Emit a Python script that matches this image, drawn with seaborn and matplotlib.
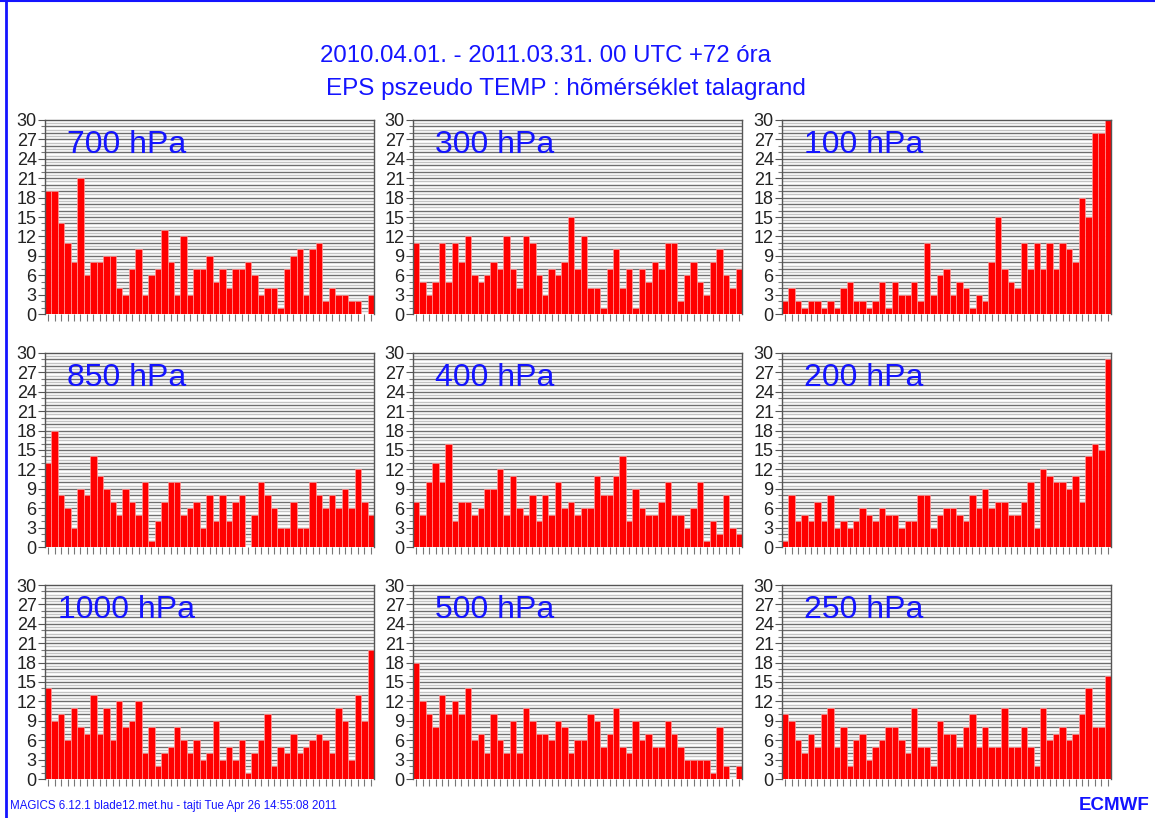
import numpy as np
import pandas as pd
import seaborn as sns
import matplotlib.pyplot as plt
from matplotlib.lines import Line2D

### talagrand counts per rank (51 ranks)
t700 = [19, 19, 14, 11, 8, 21, 6, 8, 8, 9, 9, 4, 3, 7, 10, 3, 6, 7, 13, 8, 3, 12, 3, 7, 7, 9,
        5, 7, 4, 7, 7, 8, 6, 3, 4, 4, 1, 7, 9, 10, 3, 10, 11, 2, 4, 3, 3, 2, 2, 0, 3]
t300 = [11, 5, 3, 5, 11, 5, 11, 8, 12, 6, 5, 6, 8, 7, 12, 7, 4, 12, 11, 6, 3, 7, 6, 8, 15, 7,
        12, 4, 4, 1, 7, 10, 4, 7, 1, 7, 5, 8, 7, 11, 11, 2, 6, 8, 5, 3, 8, 10, 6, 4, 7]
t100 = [2, 4, 2, 1, 2, 2, 1, 2, 1, 4, 5, 2, 2, 1, 2, 5, 1, 5, 3, 3, 5, 2, 11, 3, 6, 7,
        3, 5, 4, 1, 3, 2, 8, 15, 7, 5, 4, 11, 7, 11, 7, 11, 7, 11, 10, 8, 18, 15, 28, 28, 30]
t850 = [13, 18, 8, 6, 3, 9, 8, 14, 11, 9, 7, 5, 9, 7, 5, 10, 1, 4, 7, 10, 10, 5, 6, 7, 3, 8,
        4, 8, 4, 7, 8, 0, 5, 10, 8, 6, 3, 3, 7, 3, 3, 10, 8, 6, 8, 6, 9, 6, 12, 7, 5]
t400 = [7, 5, 10, 13, 10, 16, 4, 7, 7, 5, 6, 9, 9, 12, 5, 11, 6, 5, 8, 4, 8, 5, 10, 6, 7, 5,
        6, 6, 11, 8, 8, 11, 14, 4, 9, 6, 5, 5, 7, 10, 5, 5, 3, 6, 10, 1, 4, 2, 8, 3, 2]
t200 = [1, 8, 4, 5, 4, 7, 4, 8, 3, 4, 3, 4, 6, 5, 4, 6, 5, 5, 3, 4, 4, 8, 8, 3, 5, 6,
        6, 5, 4, 8, 6, 9, 6, 7, 7, 5, 5, 7, 10, 3, 12, 11, 10, 10, 9, 11, 7, 14, 16, 15, 29]
t1000 = [14, 9, 10, 6, 11, 8, 7, 13, 7, 11, 6, 12, 8, 9, 12, 4, 8, 2, 4, 5, 8, 6, 4, 6, 3, 4,
         9, 3, 5, 3, 6, 1, 4, 6, 10, 2, 5, 4, 7, 4, 5, 6, 7, 6, 4, 11, 9, 3, 13, 9, 20]
t500 = [18, 12, 10, 8, 13, 10, 12, 10, 14, 6, 7, 4, 10, 6, 4, 9, 4, 11, 9, 7, 7, 6, 9, 8, 4, 6,
        6, 10, 9, 5, 7, 11, 5, 4, 9, 6, 7, 5, 5, 9, 7, 5, 3, 3, 3, 3, 1, 8, 2, 0, 2]
t250 = [10, 9, 6, 4, 7, 5, 10, 11, 5, 8, 2, 6, 7, 3, 5, 6, 8, 8, 6, 4, 11, 5, 5, 2, 9, 7,
        7, 5, 8, 10, 5, 8, 5, 5, 11, 5, 5, 8, 5, 2, 11, 6, 7, 8, 6, 7, 10, 14, 8, 8, 16]

levels = [["700 hPa", "300 hPa", "100 hPa"],
          ["850 hPa", "400 hPa", "200 hPa"],
          ["1000 hPa", "500 hPa", "250 hPa"]]
counts = {"700 hPa": t700, "300 hPa": t300, "100 hPa": t100,
          "850 hPa": t850, "400 hPa": t400, "200 hPa": t200,
          "1000 hPa": t1000, "500 hPa": t500, "250 hPa": t250}
yticks = list(range(0, 31, 3))

title1 = "2010.04.01. - 2011.03.31. 00 UTC +72 óra"
title2 = "EPS pszeudo TEMP : hõmérséklet talagrand"
footer = "MAGICS 6.12.1 blade12.met.hu - tajti Tue Apr 26 14:55:08 2011"

sns.set_theme(style="white")
plt.rcParams['font.family'] = ['Liberation Sans', 'DejaVu Sans']

W, H = 1155, 818
fig = plt.figure(figsize=(W / 100, H / 100), dpi=100)

blue = "#1414ff"
lefts = [45, 413, 782]
tops = [120, 353, 585]
aw, ah = 329, 194

for r in range(3):
    for c in range(3):
        name = levels[r][c]
        vals = counts[name]
        df = pd.DataFrame({"rank": list(range(len(vals))), "count": vals})
        ax = fig.add_axes([lefts[c] / W, 1 - (tops[r] + ah) / H, aw / W, ah / H])
        # grid lines: dark at integers, light at half steps
        for v in np.arange(0.5, 30, 0.5):
            col = "#6e6e6e" if v % 1 == 0 else "#c4c4c4"
            ax.axhline(v, color=col, lw=1.0, zorder=0)
        sns.barplot(data=df, x="rank", y="count", color="#ff0000", saturation=1,
                    width=1, edgecolor="#ff9a9a", linewidth=0.5, ax=ax, zorder=2)
        ax.set_xlim(-0.5, len(vals) - 0.5)
        ax.set_ylim(0, 30)
        ax.set_yticks(yticks)
        ax.set_yticklabels([str(t) for t in yticks], fontsize=13, color="#222222")
        ax.set_yticks(range(0, 31), minor=True)
        ax.set_xticks(range(len(vals)))
        ax.set_xticklabels([])
        ax.tick_params(axis="x", length=5, width=0.8, color="#777777", direction="out", bottom=True)
        ax.tick_params(axis="y", which="major", length=5, width=0.8, color="#555555", pad=1, left=True)
        ax.tick_params(axis="y", which="minor", length=3, width=0.8, color="#777777", left=True)
        ax.set_xlabel("")
        ax.set_ylabel("")
        for s in ax.spines.values():
            s.set_color("#555555")
            s.set_linewidth(1.0)
        ax.spines["bottom"].set_visible(False)
        ax.text(0.247, 0.83, name, transform=ax.transAxes, ha="center", va="baseline",
                fontsize=23, color=blue, zorder=5)

fig.text(546 / W, 1 - 56 / H, title1, ha="center", va="center", fontsize=17.3, color=blue)
fig.text(566 / W, 1 - 89 / H, title2, ha="center", va="center", fontsize=17.5, color=blue)
fig.text(10 / W, 1 - 806 / H, footer, ha="left", va="center", fontsize=8.3, color=blue)
fig.text(1150 / W, 1 - 805 / H, "ECMWF", ha="right", va="center", fontsize=13.5,
         fontweight="heavy", color=blue)

# blue page frame on the left and top
fig.add_artist(Line2D([6 / W, 6 / W], [0, 1], color=blue, lw=2, transform=fig.transFigure))
fig.add_artist(Line2D([0, 1], [1 - 1 / H, 1 - 1 / H], color=blue, lw=1.5, transform=fig.transFigure))

fig.savefig("out.png", dpi=100)
